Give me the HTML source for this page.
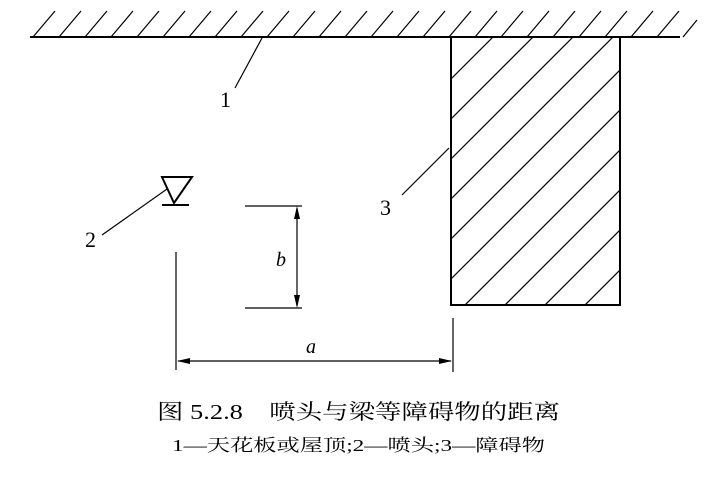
<!DOCTYPE html>
<html><head><meta charset="utf-8"><style>
html,body{margin:0;padding:0;background:#fff;overflow:hidden;width:717px;height:480px;}
svg{display:block;}
text{font-family:"Liberation Serif","Noto Serif CJK SC",serif;fill:#000;}
</style></head><body>
<svg width="717" height="480" viewBox="0 0 717 480" xmlns="http://www.w3.org/2000/svg">
<defs><clipPath id="c"><rect x="450" y="37" width="170" height="268"/></clipPath></defs>
<g stroke="#000" stroke-width="1.2" fill="none">
<line x1="30" y1="37" x2="680" y2="37" stroke-width="2"/>
<path d="M33 37L55 11M59 37L81 11M85 37L107 11M111 37L133 11M137 37L159 11M163 37L185 11M189 37L211 11M215 37L237 11M241 37L263 11M267 37L289 11M293 37L315 11M319 37L341 11M345 37L367 11M371 37L393 11M397 37L419 11M423 37L445 11M449 37L471 11M475 37L497 11M501 37L523 11M527 37L549 11M553 37L575 11M579 37L601 11M605 37L627 11M631 37L653 11M657 37L679 11M683 37L697 20"/>
<rect x="451" y="37" width="169" height="268" stroke-width="2"/>
<g clip-path="url(#c)">
<path d="M450 80L500 30M450 120L550 20M450 160L590 20M450 200L630 20M450 240L670 20M450 280L670 60M450 320L670 100M450 360L670 140M450 400L670 180M450 440L670 220M450 480L670 260M450 520L670 300"/>
</g>
<line x1="235" y1="88" x2="262" y2="38"/>
<line x1="402" y1="195" x2="449" y2="148"/>
<line x1="102" y1="235" x2="167" y2="189"/>
<path d="M162 177L192 177L174 203Z" stroke-width="2"/>
<line x1="162" y1="205" x2="189" y2="205" stroke-width="2"/>
<line x1="176" y1="252" x2="176" y2="370"/>
<line x1="245" y1="206" x2="302" y2="206"/>
<line x1="245" y1="308" x2="302" y2="308"/>
<line x1="297" y1="208" x2="297" y2="306"/>
<line x1="453" y1="318" x2="453" y2="372"/>
<line x1="178" y1="361" x2="451" y2="361"/>
</g>
<g fill="#000">
<path d="M297 206L294 219L300 219Z"/>
<path d="M297 308L294 295L300 295Z"/>
<path d="M177 361L190 358L190 364Z"/>
<path d="M452 361L439 358L439 364Z"/>
</g>
<text x="220" y="107" font-size="22">1</text>
<text x="85" y="247" font-size="22">2</text>
<text x="380" y="215" font-size="22">3</text>
<text x="276" y="266" font-size="20" font-style="italic">b</text>
<text x="306" y="353" font-size="20" font-style="italic">a</text>
<text x="157" y="419" font-size="21" textLength="403" lengthAdjust="spacingAndGlyphs">图 5.2.8　喷头与梁等障碍物的距离</text>
<text x="172" y="451" font-size="17" textLength="373" lengthAdjust="spacingAndGlyphs">1—天花板或屋顶;2—喷头;3—障碍物</text>
</svg>
</body></html>
